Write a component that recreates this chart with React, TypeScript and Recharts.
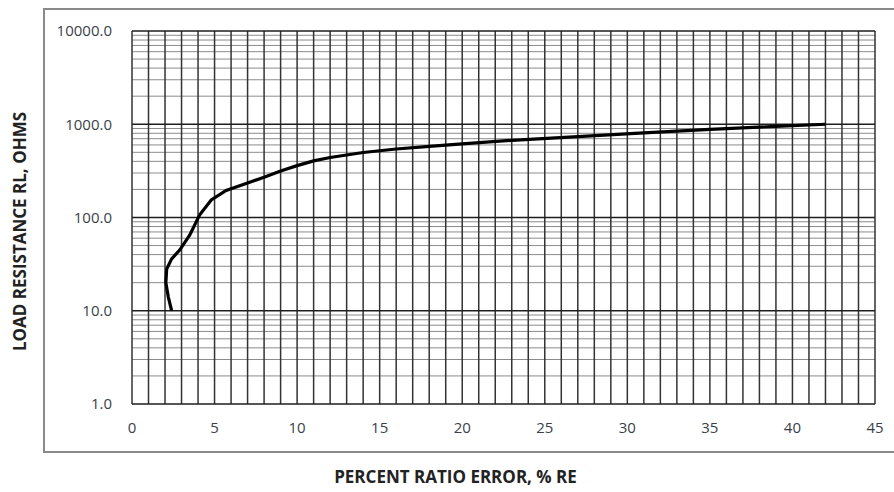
import { CartesianGrid, Label, Line, LineChart, XAxis, YAxis } from "recharts";

// curve (percent ratio error vs load resistance)
const errorPct = [2.4, 2.2, 2.05, 2.1, 2.4, 2.9, 3.5, 4.1, 4.8, 5.7, 7.0, 8.0, 9.0, 10, 11, 12, 14, 16, 18, 20, 23, 27, 31, 35, 39, 42];
const resistance = [10, 14, 20, 28, 36, 45, 65, 107, 154, 195, 235, 270, 315, 360, 405, 440, 498, 543, 580, 615, 672, 735, 810, 880, 950, 1000];

const xTicks = [0, 5, 10, 15, 20, 25, 30, 35, 40, 45];
const yTicks = [1, 10, 100, 1000, 10000];
const decades = [1, 10, 100, 1000, 10000];
const minorY = [2, 3, 4, 5, 6, 7, 8, 9, 20, 30, 40, 50, 60, 70, 80, 90, 200, 300, 400, 500, 600, 700, 800, 900, 2000, 3000, 4000, 5000, 6000, 7000, 8000, 9000];
const gridX = Array.from({ length: 46 }, (_, i) => i);

const data = errorPct.map((x, i) => ({ x, rl: resistance[i] }));

const font = "'Open Sans', 'Noto Sans', sans-serif";
const tick = { fontSize: 15, fill: "#3a3f4a", fontFamily: font };
const title = { fontSize: 17, fontWeight: 700, fill: "#222", fontFamily: font };

export default function App() {
  return (
    <div style={{ position: "absolute", left: 0, top: 0, width: 894, height: 492, overflow: "hidden", background: "#fff" }}>
      <div
        style={{
          position: "absolute",
          left: 43,
          top: 8,
          width: 880,
          height: 441,
          border: "2px solid #8a8a8a",
        }}
      />
      <div style={{ position: "absolute", left: 0, top: 0 }}>
        <LineChart width={894} height={492} data={data} margin={{ top: 31, right: 19, bottom: 58, left: 50 }}>
          <CartesianGrid stroke="#8c8c8c" strokeWidth={1} vertical={false} horizontalValues={minorY} />
          <CartesianGrid stroke="#333" strokeWidth={1.5} horizontal={false} verticalValues={gridX} />
          <CartesianGrid stroke="#1e1e1e" strokeWidth={1.6} vertical={false} horizontalValues={decades} />
          <XAxis
            dataKey="x"
            type="number"
            domain={[0, 45]}
            ticks={xTicks}
            interval={0}
            axisLine={false}
            tickLine={false}
            tick={tick}
            tickMargin={12}
            height={30}
          >
            <Label value="PERCENT RATIO ERROR, % RE" position="insideBottom" offset={-49} dx={-48} style={title} />
          </XAxis>
          <YAxis
            dataKey="rl"
            scale="log"
            domain={[1, 10000]}
            ticks={yTicks}
            interval={0}
            allowDataOverflow
            axisLine={false}
            tickLine={false}
            tick={tick}
            tickMargin={14}
            tickFormatter={(v: number) => v.toFixed(1)}
            width={82}
          >
            <Label
              value="LOAD RESISTANCE RL, OHMS"
              angle={-90}
              position="center"
              dx={-71}
              dy={14}
              style={{ ...title, textAnchor: "middle" }}
            />
          </YAxis>
          <Line type="linear" dataKey="rl" stroke="#000" strokeWidth={3.2} dot={false} isAnimationActive={false} />
        </LineChart>
      </div>
    </div>
  );
}
